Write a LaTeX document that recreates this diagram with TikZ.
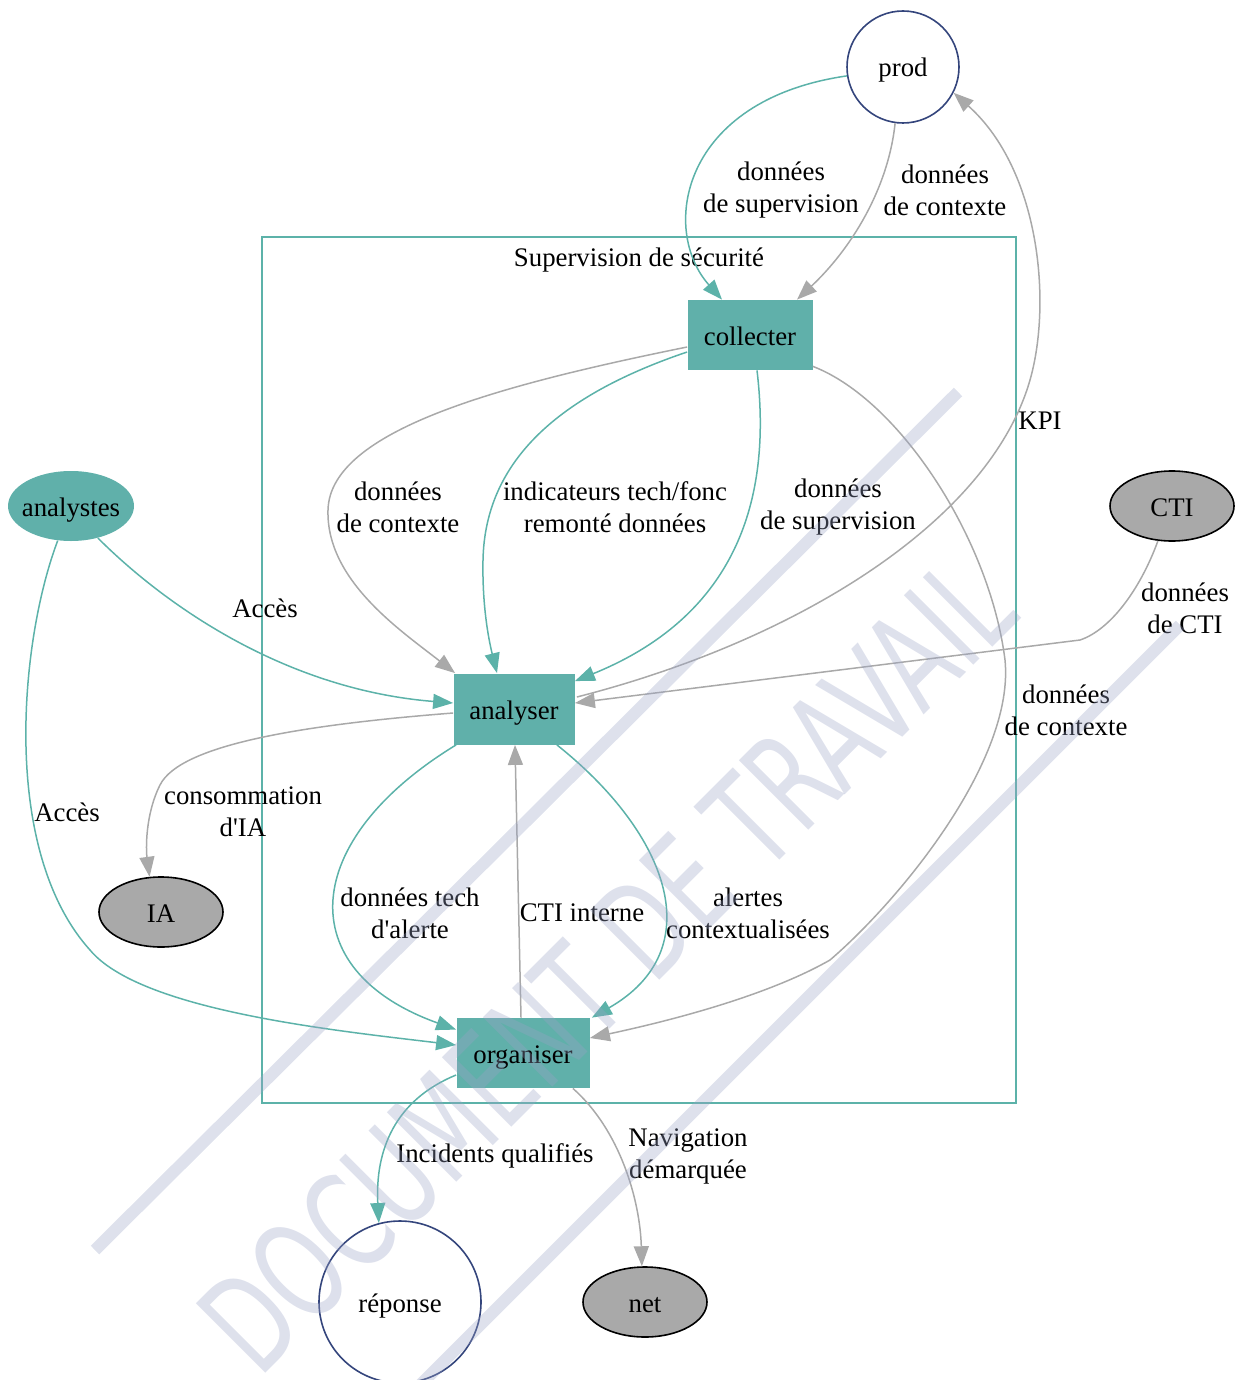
\documentclass[tikz,border=0pt]{standalone}
\usepackage{fontspec}
\setmainfont{Liberation Serif}
\newfontfamily\wmfont{DejaVu Sans}
\usepackage{tikz}
\usetikzlibrary{calc,arrows.meta,shapes.geometric}
\definecolor{secfill}{HTML}{60B0AA}
\definecolor{secline}{HTML}{5CB2A9}
\definecolor{grayline}{HTML}{A9A9A9}
\definecolor{grayfill}{HTML}{A9A9A9}
\definecolor{navy}{HTML}{34457C}
\definecolor{wmcol}{HTML}{9AA3C6}
\tikzset{
  txt/.style={font=\fontsize{13.4}{16}\selectfont, text=black},
  shp/.style={txt, text height=10pt, text depth=0pt},
  proc/.style={shp, rectangle, fill=secfill, inner sep=0pt},
  actor/.style={shp, ellipse, fill=secfill, inner ysep=0pt, inner xsep=-3pt, minimum width=63pt, minimum height=35pt},
  ext/.style={shp, ellipse, draw=black, fill=grayfill, line width=0.8pt, inner sep=0pt, minimum width=62pt, minimum height=35pt},
  io/.style={shp, circle, draw=navy, fill=white, line width=0.8pt, inner sep=0pt},
  cluster/.style={rectangle, draw=secline, line width=0.75pt, minimum width=377pt, minimum height=433pt},
  lab/.style={txt, align=center, inner sep=0pt},
  flow/.style={draw=secline, line width=0.75pt, -{Triangle[length=10pt,width=7.5pt]}},
  aux/.style={draw=grayline, line width=0.75pt, -{Triangle[length=10pt,width=7.5pt]}},
  wmline/.style={draw=wmcol, line width=6pt, opacity=0.33},
  wmtext/.style={text=wmcol, text opacity=0.33, inner sep=0pt},
}

\begin{document}
\begin{tikzpicture}[x=0.5pt,y=-0.5pt]
  \useasboundingbox (0,0) rectangle (1235,1380);

  % cluster
  \node[cluster] (sup) at (639,670) {};
  \node[lab] (suplab) at (639,260) {Supervision de sécurité};

  % nodes
  \node[io, minimum size=56pt] (prod) at (903,67) {prod};
  \node[proc, minimum width=62.5pt, minimum height=35pt] (collecter) at (750,335) {collecter};
  \node[proc, minimum width=60.5pt, minimum height=35.5pt] (analyser) at (514,709) {analyser};
  \node[proc, minimum width=66.5pt, minimum height=35pt] (organiser) at (523,1053) {organiser};
  \node[actor] (analystes) at (71,506) {analystes};
  \node[ext] (cti) at (1172,506) {CTI};
  \node[ext] (ia) at (161,912) {IA};
  \node[ext] (net) at (645,1302) {net};
  \node[io, minimum size=81pt] (reponse) at (400,1302) {réponse};

  % prod <-> collecter
  \draw[flow] (prod.189) .. controls (680,100) and (660,230) .. ($(collecter.north)+(-28,0)$);
  \draw[aux] (prod.262) .. controls (888,190) and (850,250) .. ($(collecter.north)+(47,0)$);
  \node[lab] (l1) at (781,190) {données\\de supervision};
  \node[lab] (l2) at (945,190) {données\\de contexte};

  % KPI
  \draw[aux] ($(analyser.east)+(2,-12)$) .. controls (800,640) and (990,520) .. (1030,380)
    .. controls (1052,303) and (1040,170) .. (prod.333);
  \node[lab] (l3) at (1040,421) {KPI};

  % collecter -> analyser
  \draw[aux] ($(collecter.west)+(0,12)$) .. controls (500,385) and (330,430) .. (328,510)
    .. controls (326,580) and (400,630) .. ($(analyser.north west)+(2,0)$);
  \draw[flow] ($(collecter.west)+(0,17)$) .. controls (560,395) and (485,460) .. (483,560)
    .. controls (482,610) and (490,645) .. ($(analyser.north)+(-17,0)$);
  \draw[flow] ($(collecter.south)+(7,0)$) .. controls (770,480) and (750,610) .. ($(analyser.north east)+(0,8)$);
  \node[lab] (l4) at (398,507) {données\\de contexte};
  \node[lab] (l5) at (615,507) {indicateurs tech/fonc\\remonté données};
  \node[lab] (l6) at (838,507) {données\\de supervision};

  % collecter -> organiser
  \draw[aux] ($(collecter.south east)+(0,-4)$) .. controls (900,400) and (990,540) .. (1005,660)
    .. controls (1015,760) and (900,900) .. (830,960)
    .. controls (760,1000) and (650,1025) .. ($(organiser.east)+(0,-15)$);
  \node[lab] (l7) at (1066,710) {données\\de contexte};

  % analystes
  \draw[flow] (analystes.-50) .. controls (170,610) and (290,690) .. ($(analyser.west)+(0,-6)$);
  \draw[flow] (analystes.249) .. controls (20,640) and (0,850) .. (90,950)
    .. controls (140,1010) and (330,1030) .. ($(organiser.west)+(0,-8)$);
  \node[lab] (l8) at (265,608) {Accès};
  \node[lab] (l9) at (67,812) {Accès};

  % CTI
  \draw[aux] (cti.248) .. controls (1140,590) and (1110,630) .. (1080,640) -- ($(analyser.east)+(0,-6)$);
  \node[lab] (l10) at (1185,608) {données\\de CTI};

  % analyser -> IA
  \draw[aux] ($(analyser.west)+(0,4)$) .. controls (300,725) and (180,745) .. (160,785)
    .. controls (145,815) and (146,850) .. (ia.108);
  \node[lab] (l11) at (243,812) {consommation\\d\textquotesingle IA};

  % analyser <-> organiser
  \draw[flow] ($(analyser.south west)+(3,0)$) .. controls (300,840) and (290,970) .. ($(organiser.north west)+(0,12)$);
  \draw[aux] ($(organiser.north)+(-2,0)$) -- ($(analyser.south)+(1,0)$);
  \draw[flow] ($(analyser.south east)+(-18,0)$) .. controls (670,835) and (710,950) .. ($(organiser.north east)+(2,0)$);
  \node[lab] (l12) at (410,913) {données tech\\d\textquotesingle alerte};
  \node[lab] (l13) at (582,913) {CTI interne};
  \node[lab] (l14) at (748,913) {alertes\\contextualisées};

  % sorties
  \draw[flow] ($(organiser.west)+(0,22)$) .. controls (395,1100) and (375,1150) .. (reponse.105);
  \draw[aux] ($(organiser.south east)+(-17,0)$) .. controls (620,1130) and (640,1200) .. (net.95);
  \node[lab] (l15) at (495,1156) {Incidents qualifiés};
  \node[lab] (l16) at (688,1156) {Navigation\\démarquée};

  % filigrane
  \coordinate (wa1) at (95,1250);
  \coordinate (wa2) at (958,392);
  \coordinate (wb1) at (420,1385);
  \coordinate (wb2) at (1180,625);
  \draw[wmline] (wa1) -- (wa2);
  \draw[wmline] (wb1) -- (wb2);
  \node[wmtext, rotate=45] (wm) at (606,964) {\resizebox{539pt}{50pt}{\wmfont DOCUMENT DE TRAVAIL}};
\end{tikzpicture}
\end{document}
